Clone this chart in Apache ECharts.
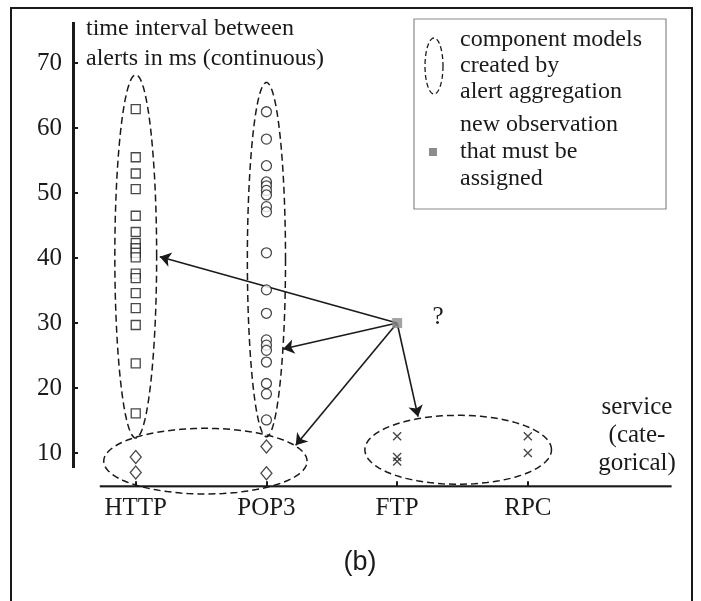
<!DOCTYPE html>
<html><head><meta charset="utf-8">
<script src="https://cdn.jsdelivr.net/npm/echarts@6/dist/echarts.min.js"></script>
<style>html,body{margin:0;padding:0;background:#fff}#c{width:701px;height:601px}</style>
</head><body><div id="c"></div>
<script>
const categories = ['HTTP', 'POP3', 'FTP', 'RPC'];
const yTicks = [10, 20, 30, 40, 50, 60, 70];
const xTicks = [0, 1, 2, 3];
const httpSquares = [62.9, 55.5, 53.0, 50.6, 46.5, 44.0, 42.3, 41.5, 40.8, 40.1, 37.6, 36.9, 34.6, 32.3, 29.7, 23.8, 16.1];
const pop3Circles = [62.5, 58.3, 54.2, 51.7, 51.1, 50.4, 49.7, 47.9, 47.1, 40.8, 35.1, 31.5, 27.4, 26.6, 25.8, 24.0, 20.7, 19.1, 15.1];
const httpDiamonds = [9.4, 7.0];
const pop3Diamonds = [11.0, 6.9];
const ftpCrosses = [12.6, 9.4, 8.7];
const rpcCrosses = [12.6, 10.0];
const newObservation = [2, 30.0];
// component models: [center (category index), center (ms), radius (category units), radius (ms)]
const componentModels = [
  [0, 40.25, 0.16, 27.95],
  [1, 39.75, 0.146, 27.25],
  [0.533, 8.75, 0.778, 5.05],
  [2.467, 10.5, 0.714, 5.3]
];
const arrowTargets = [[0.184, 40.2], [1.127, 26.0], [1.224, 11.2], [2.16, 15.6]];
const yAxisLine = [[-0.48, 7.7], [-0.48, 76.3]];
const xAxisLine = [[-0.275, 4.9], [4.1, 4.9]];

const SERIF = 'Liberation Serif';
const INK = '#1a1a1a';
const cross = 'path://M0,0L10,10M10,0L0,10';

function ellipsePts(cx, cy, rx, ry, n) {
  const p = [];
  for (let i = 0; i < n; i++) {
    const t = i / n * Math.PI * 2;
    p.push([cx + rx * Math.cos(t), cy + ry * Math.sin(t)]);
  }
  return p;
}

const chart = echarts.init(document.getElementById('c'), null, {renderer: 'canvas'});
const hollow = {color: '#fff', borderColor: INK, borderWidth: 1.3};

chart.setOption({
  backgroundColor: '#fff',
  animation: false,
  grid: {left: 73, right: 29.4, top: 17.5, bottom: 114.8},
  xAxis: {
    type: 'value', min: -0.48, max: 4.1,
    axisLine: {show: false, onZero: false},
    splitLine: {show: false},
    axisTick: {show: true, inside: true, length: 5, customValues: xTicks, lineStyle: {color: INK, width: 2}},
    axisLabel: {customValues: xTicks, formatter: v => categories[v] || '', fontFamily: SERIF, fontSize: 25, color: INK, margin: 10}
  },
  yAxis: {
    type: 'value', min: 4.9, max: 77,
    axisLine: {show: false, onZero: false},
    splitLine: {show: false},
    axisTick: {show: true, inside: true, length: 5, customValues: yTicks, lineStyle: {color: INK, width: 2}},
    axisLabel: {customValues: yTicks, fontFamily: SERIF, fontSize: 25, color: INK, margin: 11}
  },
  series: [
    {type: 'lines', coordinateSystem: 'cartesian2d', z: 3, symbol: 'none',
     lineStyle: {color: INK, width: 3, opacity: 1},
     data: [{coords: yAxisLine}]},
    {type: 'lines', coordinateSystem: 'cartesian2d', z: 3, symbol: 'none',
     lineStyle: {color: INK, width: 2.5, opacity: 1},
     data: [{coords: xAxisLine}]},
    {type: 'custom', z: 2, clip: false,
     renderItem: function (params, api) {
       const pts = ellipsePts(api.value(0), api.value(1), api.value(2), api.value(3), 90).map(p => api.coord(p));
       return {type: 'polygon', shape: {points: pts}, style: {fill: 'none', stroke: INK, lineWidth: 1.5, lineDash: [7, 4]}};
     },
     encode: {x: 0, y: 1},
     data: componentModels},
    {type: 'lines', coordinateSystem: 'cartesian2d', z: 4, symbol: ['none', 'arrow'], symbolSize: 11,
     lineStyle: {color: INK, width: 1.6, opacity: 1, curveness: 0},
     data: arrowTargets.map(t => ({coords: [newObservation, t]}))},
    {type: 'scatter', z: 5, symbol: 'rect', symbolSize: 9, itemStyle: hollow,
     data: httpSquares.map(v => [0, v])},
    {type: 'scatter', z: 5, symbol: 'circle', symbolSize: 10, itemStyle: hollow,
     data: pop3Circles.map(v => [1, v])},
    {type: 'scatter', z: 5, symbol: 'diamond', symbolSize: [11, 13], itemStyle: hollow,
     data: httpDiamonds.map(v => [0, v]).concat(pop3Diamonds.map(v => [1, v]))},
    {type: 'scatter', z: 5, symbol: cross, symbolSize: 8, itemStyle: {color: 'none', borderColor: INK, borderWidth: 1.4},
     data: ftpCrosses.map(v => [2, v]).concat(rpcCrosses.map(v => [3, v]))},
    {type: 'scatter', z: 6, symbol: 'rect', symbolSize: 10, itemStyle: {color: '#8c8c8c'},
     data: [newObservation]}
  ],
  graphic: [
    {type: 'rect', z: 0, shape: {x: 11, y: 8, width: 681, height: 640}, style: {fill: 'none', stroke: INK, lineWidth: 2}},
    {type: 'text', left: 86, top: 14, style: {text: 'time interval between\nalerts in ms (continuous)', font: '24px "Liberation Serif"', lineHeight: 30, fill: INK}},
    {type: 'rect', shape: {x: 414, y: 19, width: 252, height: 190}, style: {fill: '#fff', stroke: '#8a8a8a', lineWidth: 1.2}},
    {type: 'polygon', shape: {points: ellipsePts(434, 66, 9, 28, 60)}, style: {fill: 'none', stroke: INK, lineWidth: 1.3, lineDash: [5, 3]}},
    {type: 'text', left: 460, top: 27, style: {text: 'component models\ncreated by\nalert aggregation', font: '24px "Liberation Serif"', lineHeight: 26, fill: INK}},
    {type: 'rect', shape: {x: 429, y: 148, width: 8, height: 8}, style: {fill: '#8c8c8c'}},
    {type: 'text', left: 460, top: 111, style: {text: 'new observation\nthat must be\nassigned', font: '24px "Liberation Serif"', lineHeight: 27, fill: INK}},
    {type: 'text', x: 438, y: 317, style: {text: '?', font: '25px "Liberation Serif"', fill: INK, align: 'center', verticalAlign: 'middle'}},
    {type: 'text', x: 637, y: 393, style: {text: 'service\n(cate-\ngorical)', font: '25px "Liberation Serif"', lineHeight: 28, fill: INK, align: 'center', verticalAlign: 'top'}},
    {type: 'text', x: 360, y: 563, style: {text: '(b)', font: '27px "Liberation Sans"', fill: INK, align: 'center', verticalAlign: 'middle'}}
  ]
});
</script>
</body></html>
